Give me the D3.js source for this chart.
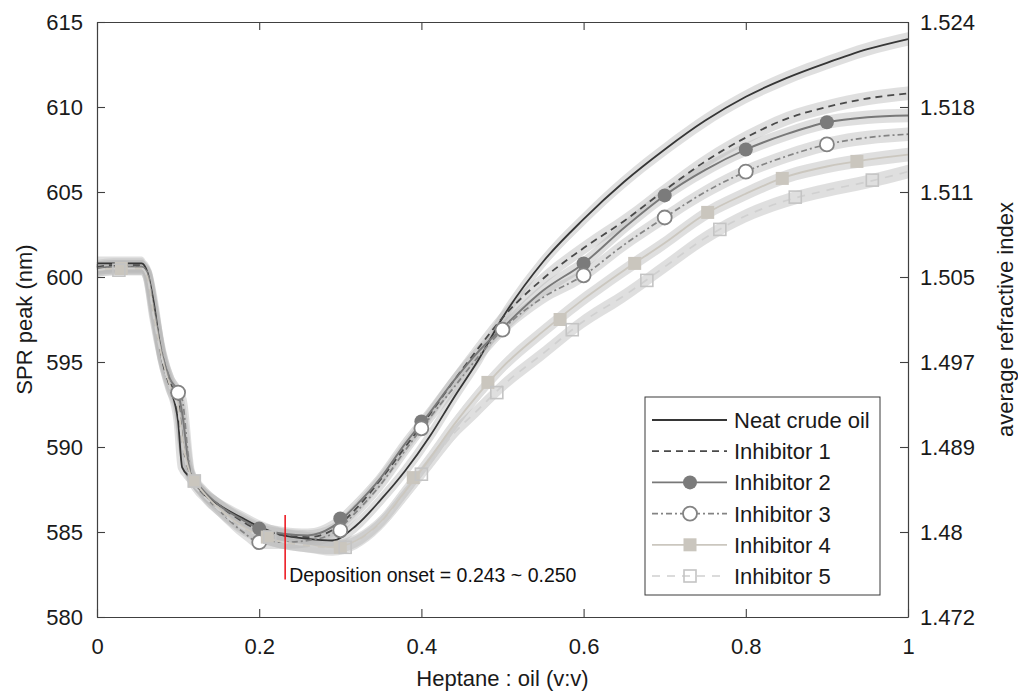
<!DOCTYPE html>
<html>
<head>
<meta charset="utf-8">
<script src="https://cdn.jsdelivr.net/npm/d3@7"></script>
<style>
  body { margin: 0; background: #fff; }
  svg { display: block; }
  text { font-family: "Liberation Sans", Arial, sans-serif; }
</style>
</head>
<body>
<svg id="chart"></svg>
<script>
const width = 1018;
const height = 691;
const margin = { top: 22, right: 110, bottom: 74, left: 97 };

// heptane : oil ratio, shared by all curves
const ratio = [0, 0.02, 0.04, 0.055, 0.062, 0.07, 0.08, 0.09, 0.1, 0.105, 0.115, 0.13, 0.15, 0.18,
    0.2, 0.23, 0.26, 0.29, 0.32, 0.35, 0.38, 0.41, 0.44, 0.47, 0.5, 0.55, 0.6, 0.65, 0.7, 0.75,
    0.8, 0.85, 0.9, 0.95, 1.0];

// SPR peak (nm)
const neatOil = [600.8, 600.8, 600.8, 600.8, 600.3, 598.5, 595.2, 593.5, 591.5, 588.8, 588.2, 587.3,
    586.6, 585.8, 585.3, 584.8, 584.6, 584.5, 585.4, 586.9, 588.6, 590.6, 592.9, 595.1, 597.6,
    600.9, 603.4, 605.6, 607.5, 609.2, 610.6, 611.7, 612.6, 613.4, 614.0];
const inhibitor1 = [600.6, 600.7, 600.7, 600.7, 600.2, 598.2, 595.4, 593.8, 592.8, 590.5, 588.4, 587.4,
    586.6, 585.6, 585.1, 584.8, 584.7, 585.1, 586.4, 588.1, 590.0, 591.9, 593.9, 595.8, 597.6,
    599.9, 601.7, 603.3, 605.1, 606.8, 608.2, 609.3, 610.0, 610.5, 610.8];
const inhibitor2 = [600.5, 600.6, 600.6, 600.6, 600.2, 598.0, 595.5, 594.0, 593.2, 592.0, 588.5, 587.5,
    586.6, 585.7, 585.2, 584.9, 584.8, 585.3, 586.6, 588.2, 590.2, 592.0, 593.9, 595.6, 597.0,
    599.2, 600.8, 602.9, 604.8, 606.3, 607.5, 608.4, 609.1, 609.4, 609.5];
const inhibitor3 = [600.5, 600.6, 600.6, 600.6, 600.3, 598.2, 595.6, 594.0, 593.2, 592.8, 588.6, 587.3,
    586.3, 585.0, 584.4, 584.4, 584.5, 584.9, 586.2, 587.8, 589.8, 591.7, 593.5, 595.3, 596.9,
    598.8, 600.1, 601.9, 603.5, 605.0, 606.2, 607.1, 607.8, 608.2, 608.4];
const inhibitor4 = [600.4, 600.5, 600.5, 600.5, 600.0, 597.8, 595.3, 593.6, 592.4, 590.5, 588.4, 587.4,
    586.4, 585.3, 584.8, 584.4, 584.2, 584.1, 584.5, 585.6, 587.4, 589.3, 591.3, 593.1, 594.7,
    596.8, 598.7, 600.4, 602.0, 603.7, 604.9, 605.9, 606.5, 606.9, 607.2];
const inhibitor5 = [600.4, 600.5, 600.5, 600.5, 600.0, 597.6, 595.2, 593.4, 592.2, 590.2, 588.2, 587.2,
    586.3, 585.2, 584.8, 584.4, 584.2, 584.0, 584.4, 585.5, 587.2, 589.0, 590.8, 592.2, 593.6,
    595.5, 597.4, 598.9, 600.6, 602.3, 603.6, 604.5, 605.1, 605.6, 606.2];

// marker positions [ratio, nm]
const markers2 = [[0.1, 593.2], [0.2, 585.2], [0.3, 585.8], [0.4, 591.5], [0.5, 596.9], [0.6, 600.8],
    [0.7, 604.8], [0.8, 607.5], [0.9, 609.1]];
const markers3 = [[0.1, 593.2], [0.2, 584.4], [0.3, 585.1], [0.4, 591.1], [0.5, 596.9], [0.6, 600.1],
    [0.7, 603.5], [0.8, 606.2], [0.9, 607.8]];
const markers4 = [[0.03, 600.5], [0.12, 588.0], [0.21, 584.7], [0.3, 584.1], [0.39, 588.2], [0.482, 593.8],
    [0.571, 597.5], [0.663, 600.8], [0.753, 603.8], [0.845, 605.8], [0.937, 606.8]];
const markers5 = [[0.027, 600.4], [0.12, 588.0], [0.213, 584.7], [0.306, 584.1], [0.4, 588.4], [0.493, 593.2],
    [0.586, 596.9], [0.678, 599.8], [0.768, 602.8], [0.861, 604.7], [0.956, 605.7]];

const seriesNames = ["Neat crude oil", "Inhibitor 1", "Inhibitor 2", "Inhibitor 3", "Inhibitor 4", "Inhibitor 5"];
const seriesValues = [neatOil, inhibitor1, inhibitor2, inhibitor3, inhibitor4, inhibitor5];
const seriesMarkers = [[], [], markers2, markers3, markers4, markers5];

const xTicks = [0, 0.2, 0.4, 0.6, 0.8, 1];
const yTicks = [580, 585, 590, 595, 600, 605, 610, 615];
const rightTickLabels = ["1.472", "1.48", "1.489", "1.497", "1.505", "1.511", "1.518", "1.524"];

const onsetRatio = 0.232;
const onsetSpan = [582.2, 586.0];
const bandHalf = 0.4;

const styles = [
    { color: "#363636", width: 1.8, dash: null, marker: null },
    { color: "#4a4a4a", width: 1.8, dash: "7,5", marker: null },
    { color: "#787878", width: 1.9, dash: null, marker: "dot" },
    { color: "#848484", width: 1.7, dash: "6,3,2,3", marker: "ring" },
    { color: "#cbc7bf", width: 1.8, dash: null, marker: "block" },
    { color: "#d0d0d0", width: 1.7, dash: "8,7", marker: "box" },
];

const svg = d3.select("#chart").attr("width", width).attr("height", height);

const x = d3.scaleLinear().domain([0, 1]).range([margin.left, width - margin.right]);
const y = d3.scaleLinear().domain([580, 615]).range([height - margin.bottom, margin.top]);

const line = d3.line()
    .x((d) => x(d[0]))
    .y((d) => y(d[1]))
    .curve(d3.curveMonotoneX);
const band = d3.area()
    .x((d) => x(d[0]))
    .y0((d) => y(d[1] - bandHalf))
    .y1((d) => y(d[1] + bandHalf))
    .curve(d3.curveMonotoneX);

const series = seriesNames.map((name, i) => ({
    name,
    points: ratio.map((r, j) => [r, seriesValues[i][j]]),
    markers: seriesMarkers[i],
    style: styles[i],
}));

// shaded bands
const bandGroup = svg.append("g");
series.forEach((s) => {
    const g = bandGroup.append("g").attr("opacity", 0.45);
    g.append("path").attr("d", band(s.points)).attr("fill", "#bababa");
    g.append("path").attr("d", line(s.points))
        .attr("fill", "none").attr("stroke", "#bababa").attr("stroke-width", 9);
});

// curves
series.forEach((s) => {
    svg.append("path")
        .attr("d", line(s.points))
        .attr("fill", "none")
        .attr("stroke", s.style.color)
        .attr("stroke-width", s.style.width)
        .attr("stroke-dasharray", s.style.dash);
});

function drawMarker(g, kind, cx, cy) {
    if (kind === "dot") {
        g.append("circle").attr("cx", cx).attr("cy", cy).attr("r", 7).attr("fill", "#7b7b7b");
    } else if (kind === "ring") {
        g.append("circle").attr("cx", cx).attr("cy", cy).attr("r", 7)
            .attr("fill", "#fff").attr("stroke", "#838383").attr("stroke-width", 1.8);
    } else if (kind === "block") {
        g.append("rect").attr("x", cx - 6.5).attr("y", cy - 6.5).attr("width", 13).attr("height", 13)
            .attr("fill", "#cac6be");
    } else if (kind === "box") {
        g.append("rect").attr("x", cx - 6).attr("y", cy - 6).attr("width", 12).attr("height", 12)
            .attr("fill", "none").attr("stroke", "#c4c4c4").attr("stroke-width", 1.6);
    }
}

const markerGroup = svg.append("g");
series.forEach((s) => {
    s.markers.forEach((m) => drawMarker(markerGroup, s.style.marker, x(m[0]), y(m[1])));
});

// onset marker
svg.append("line")
    .attr("x1", x(onsetRatio)).attr("x2", x(onsetRatio))
    .attr("y1", y(onsetSpan[1])).attr("y2", y(onsetSpan[0]))
    .attr("stroke", "#ec1c24").attr("stroke-width", 1.6);
svg.append("text")
    .attr("x", x(onsetRatio) + 4)
    .attr("y", y(582.05))
    .attr("font-size", 19.5)
    .attr("fill", "#111")
    .text("Deposition onset = 0.243 ~ 0.250");

// axes
const axisColor = "#404040";
function styleAxis(g, fs) {
    g.attr("font-family", null).attr("font-size", fs);
    g.selectAll(".domain").attr("stroke", axisColor).attr("stroke-width", 1.2);
    g.selectAll(".tick line").attr("stroke", axisColor).attr("stroke-width", 1.1);
    g.selectAll(".tick text").attr("fill", "#1a1a1a");
}

svg.append("g")
    .attr("transform", `translate(0,${y(580)})`)
    .call(d3.axisBottom(x).tickValues(xTicks).tickFormat(d3.format("~g"))
        .tickSizeInner(-8).tickSizeOuter(0).tickPadding(21))
    .call((g) => styleAxis(g, 22));

svg.append("g")
    .attr("transform", `translate(0,${y(615)})`)
    .call(d3.axisTop(x).tickValues(xTicks).tickFormat("").tickSizeInner(-8).tickSizeOuter(0))
    .call((g) => styleAxis(g, 22));

svg.append("g")
    .attr("transform", `translate(${x(0)},0)`)
    .call(d3.axisLeft(y).tickValues(yTicks).tickFormat(d3.format("d"))
        .tickSizeInner(-8).tickSizeOuter(0).tickPadding(14))
    .call((g) => styleAxis(g, 22));

svg.append("g")
    .attr("transform", `translate(${x(1)},0)`)
    .call(d3.axisRight(y).tickValues(yTicks).tickFormat((d, i) => rightTickLabels[i])
        .tickSizeInner(-8).tickSizeOuter(0).tickPadding(12))
    .call((g) => styleAxis(g, 22));

// axis titles
svg.append("text")
    .attr("x", (x(0) + x(1)) / 2)
    .attr("y", 686)
    .attr("text-anchor", "middle")
    .attr("font-size", 22)
    .attr("fill", "#1a1a1a")
    .text("Heptane : oil (v:v)");

svg.append("text")
    .attr("transform", `translate(32,${(y(580) + y(615)) / 2}) rotate(-90)`)
    .attr("text-anchor", "middle")
    .attr("font-size", 22)
    .attr("fill", "#1a1a1a")
    .text("SPR peak (nm)");

svg.append("text")
    .attr("transform", `translate(1013,${(y(580) + y(615)) / 2}) rotate(-90)`)
    .attr("text-anchor", "middle")
    .attr("font-size", 22)
    .attr("fill", "#1a1a1a")
    .text("average refractive index");

// legend
const legend = svg.append("g").attr("transform", "translate(645,397)");
legend.append("rect")
    .attr("width", 235).attr("height", 198)
    .attr("fill", "#fff").attr("stroke", "#3a3a3a").attr("stroke-width", 1);
series.forEach((s, i) => {
    const ly = 23 + i * 31.2;
    const row = legend.append("g");
    row.append("line")
        .attr("x1", 7).attr("x2", 82).attr("y1", ly).attr("y2", ly)
        .attr("stroke", s.style.color)
        .attr("stroke-width", s.style.width)
        .attr("stroke-dasharray", s.style.dash);
    drawMarker(row, s.style.marker, 45, ly);
    row.append("text")
        .attr("x", 89).attr("y", ly)
        .attr("dy", "0.36em")
        .attr("font-size", 22)
        .attr("fill", "#1a1a1a")
        .text(s.name);
});
</script>
</body>
</html>
